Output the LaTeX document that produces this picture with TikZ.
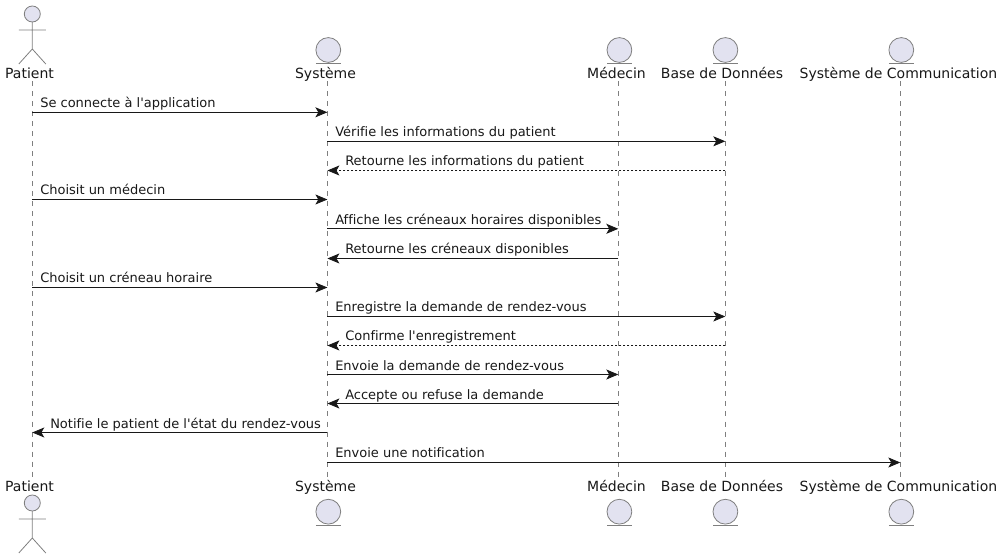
\documentclass[tikz,border=0pt]{standalone}
\usepackage{fontspec}
\newfontfamily\diagfont{DejaVu Sans}[Ligatures=NoCommon]
\usetikzlibrary{arrows.meta}
\definecolor{partfill}{HTML}{E2E2F0}
\definecolor{partline}{HTML}{7F7F7F}
\definecolor{ink}{HTML}{181818}
\tikzset{
  lifeline/.style={draw=partline,line width=0.6pt,dash pattern=on 3.75pt off 3.75pt},
  actorline/.style={draw=partline,line width=0.6pt},
  headshape/.style={draw=partline,fill=partfill,line width=0.6pt},
  partlabel/.style={inner sep=0pt,text=ink,font=\diagfont\fontsize{10.5}{12}\selectfont,anchor=base},
  msglabel/.style={inner sep=0pt,text=ink,font=\diagfont\fontsize{9.75}{12}\selectfont,anchor=base west},
  msg/.style={draw=ink,line width=0.6pt,-{Stealth[length=9pt,width=7.5pt,inset=2.2pt]}},
  reply/.style={msg,dash pattern=on 1.5pt off 1.5pt},
}
\newcommand{\actorfig}[2]{% x, y of the head centre
  \draw[headshape] (#1,#2) circle (8);
  \draw[actorline] (#1,#2+8) -- (#1,#2+35)
    (#1-13.5,#2+16) -- (#1+13.5,#2+16)
    (#1-13.5,#2+50) -- (#1,#2+35) -- (#1+13.5,#2+50);
}
\newcommand{\entityfig}[2]{% x, y of the circle centre
  \draw[headshape] (#1,#2) circle (12.4);
  \draw[actorline] (#1-12.4,#2+13.2) -- (#1+12.4,#2+13.2);
}
\begin{document}
\begin{tikzpicture}[x=0.75pt,y=-0.75pt]
\useasboundingbox (0,0) rectangle (1003,559);
% lifeline ends
\foreach \n/\x in {P/32.3,S/327.4,M/618.3,B/725.3,C/900.3}{
  \coordinate (\n top) at (\x,81.5);
  \coordinate (\n bot) at (\x,477);
  \draw[lifeline] (\n top) -- (\n bot);
}
% participants, top
\actorfig{32.3}{14}
\entityfig{328.3}{50}
\entityfig{619.4}{50}
\entityfig{725.4}{50}
\entityfig{901.3}{50}
\node[partlabel] (ptop) at (29.5,78.4) {Patient};
\node[partlabel] (stop) at (325.5,78.4) {Système};
\node[partlabel] (mtop) at (616.5,78.4) {Médecin};
\node[partlabel] (btop) at (722,78.4) {Base de Données};
\node[partlabel] (ctop) at (898.5,78.4) {Système de Communication};
% participants, bottom
\node[partlabel] (pbot) at (29.5,491.8) {Patient};
\node[partlabel] (sbot) at (325.5,491.8) {Système};
\node[partlabel] (mbot) at (616.5,491.8) {Médecin};
\node[partlabel] (bbot) at (722,491.8) {Base de Données};
\node[partlabel] (cbot) at (898.5,491.8) {Système de Communication};
\actorfig{32.3}{503}
\entityfig{328.3}{511.7}
\entityfig{619.4}{511.7}
\entityfig{725.4}{511.7}
\entityfig{901.3}{511.7}
% messages
\draw[msg] (Ptop |- 0,112.3) -- (Stop |- 0,112.3);
\node[msglabel] (m1) at (40,107.5) {Se connecte à l'application};
\draw[msg] (Stop |- 0,141.3) -- (Btop |- 0,141.3);
\node[msglabel] (m2) at (335,136.6) {Vérifie les informations du patient};
\draw[reply] (Btop |- 0,170.5) -- (Stop |- 0,170.5);
\node[msglabel] (m3) at (345,166) {Retourne les informations du patient};
\draw[msg] (Ptop |- 0,199.5) -- (Stop |- 0,199.5);
\node[msglabel] (m4) at (40,195) {Choisit un médecin};
\draw[msg] (Stop |- 0,228.8) -- (Mtop |- 0,228.8);
\node[msglabel] (m5) at (335,224.2) {Affiche les créneaux horaires disponibles};
\draw[msg] (Mtop |- 0,258.5) -- (Stop |- 0,258.5);
\node[msglabel] (m6) at (345,253.5) {Retourne les créneaux disponibles};
\draw[msg] (Ptop |- 0,287.5) -- (Stop |- 0,287.5);
\node[msglabel] (m7) at (40,282.8) {Choisit un créneau horaire};
\draw[msg] (Stop |- 0,316.5) -- (Btop |- 0,316.5);
\node[msglabel] (m8) at (335,312) {Enregistre la demande de rendez-vous};
\draw[reply] (Btop |- 0,345.5) -- (Stop |- 0,345.5);
\node[msglabel] (m9) at (345,341) {Confirme l'enregistrement};
\draw[msg] (Stop |- 0,374.5) -- (Mtop |- 0,374.5);
\node[msglabel] (m10) at (335,370.3) {Envoie la demande de rendez-vous};
\draw[msg] (Mtop |- 0,403.5) -- (Stop |- 0,403.5);
\node[msglabel] (m11) at (345,399.3) {Accepte ou refuse la demande};
\draw[msg] (Stop |- 0,432.5) -- (Ptop |- 0,432.5);
\node[msglabel] (m12) at (50,428) {Notifie le patient de l'état du rendez-vous};
\draw[msg] (Stop |- 0,462.5) -- (Ctop |- 0,462.5);
\node[msglabel] (m13) at (335,457.3) {Envoie une notification};
\end{tikzpicture}
\end{document}
